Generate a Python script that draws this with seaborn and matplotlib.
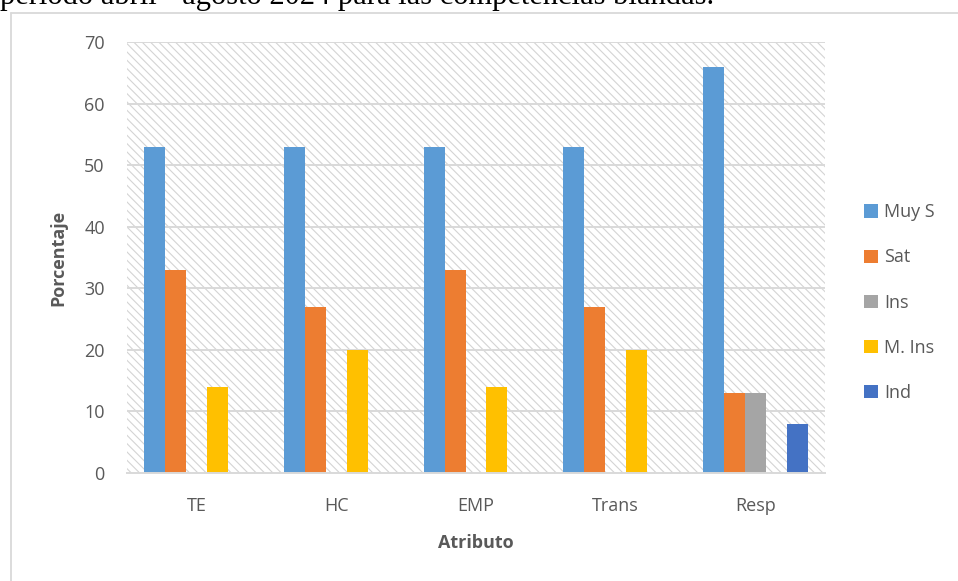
import matplotlib
matplotlib.use("Agg")
import matplotlib.pyplot as plt
from matplotlib.lines import Line2D
from matplotlib.patches import Rectangle
import seaborn as sns
import pandas as pd

categories = ["TE", "HC", "EMP", "Trans", "Resp"]
series = ["Muy S", "Sat", "Ins", "M. Ins", "Ind"]
muy_s = [53, 53, 53, 53, 66]
sat = [33, 27, 33, 27, 13]
ins = [0, 0, 0, 0, 13]
m_ins = [14, 20, 14, 20, 0]
ind = [0, 0, 0, 0, 8]
colors = ["#5B9BD5", "#ED7D31", "#A5A5A5", "#FFC000", "#4472C4"]
yticks = [0, 10, 20, 30, 40, 50, 60, 70]

rows = []
for s, vals in zip(series, [muy_s, sat, ins, m_ins, ind]):
    for c, v in zip(categories, vals):
        rows.append({"Atributo": c, "Serie": s, "Porcentaje": v})
df = pd.DataFrame(rows)

sns.set_theme(style="white")
plt.rcParams["font.family"] = ["Open Sans", "DejaVu Sans"]
plt.rcParams["hatch.linewidth"] = 0.8

fig = plt.figure(figsize=(9.58, 5.81), dpi=100)
ax = fig.add_axes([127/958, 1-473/581, (825-127)/958, (473-42)/581])

# Chart frame (left and top edges)
fig.add_artist(Line2D([10.5/958, 10.5/958], [0, 1-12.5/581], transform=fig.transFigure,
                      color="#d9d9d9", lw=1.3))
fig.add_artist(Line2D([10.5/958, 1], [1-12.5/581, 1-12.5/581], transform=fig.transFigure,
                      color="#d9d9d9", lw=1.3))
# Caption (cut off at top, as in the source)
fig.text(0, 1-4/581, "periodo abril - agosto 2024 para las competencias blandas.",
         family=["Liberation Serif"], fontsize=22, color="black", va="baseline", ha="left")

# Hatched plot area
ax.add_patch(Rectangle((0, 0), 1, 1, transform=ax.transAxes, facecolor="white",
                       edgecolor="#d4d4d4", hatch="\\\\\\\\", lw=0, zorder=0))

sns.barplot(data=df, x="Atributo", y="Porcentaje", hue="Serie", hue_order=series,
            order=categories, palette=colors, width=0.75, saturation=1, ax=ax,
            zorder=3, linewidth=0, errorbar=None)

ax.set_ylim(0, 70)
ax.set_yticks(yticks)
ax.set_xlim(-0.5, 4.5)
for y in yticks[1:]:
    ax.axhline(y, color="#d9d9d9", lw=1.4, zorder=1)
for s in ["top", "right", "left"]:
    ax.spines[s].set_visible(False)
ax.spines["bottom"].set_color("#d9d9d9")
ax.spines["bottom"].set_linewidth(1.4)
ax.spines["bottom"].set_zorder(4)
ax.tick_params(axis="both", length=0, labelsize=13, colors="#595959")
ax.tick_params(axis="x", pad=17)
ax.tick_params(axis="y", pad=16)
ax.set_xlabel("Atributo", fontsize=13, fontweight="bold", color="#595959", labelpad=14)
ax.set_ylabel("Porcentaje", fontsize=13, fontweight="bold", color="#595959", labelpad=12)

handles, labels = ax.get_legend_handles_labels()
if ax.legend_:
    ax.legend_.remove()
fig.legend(handles, labels, loc="center left", bbox_to_anchor=(864/958, 1-302.5/581),
           bbox_transform=fig.transFigure, frameon=False, fontsize=13,
           labelcolor="#595959", handlelength=0.75, handleheight=0.75,
           handletextpad=0.35, labelspacing=1.5, borderpad=0, borderaxespad=0)

fig.savefig("out.png", dpi=100)
